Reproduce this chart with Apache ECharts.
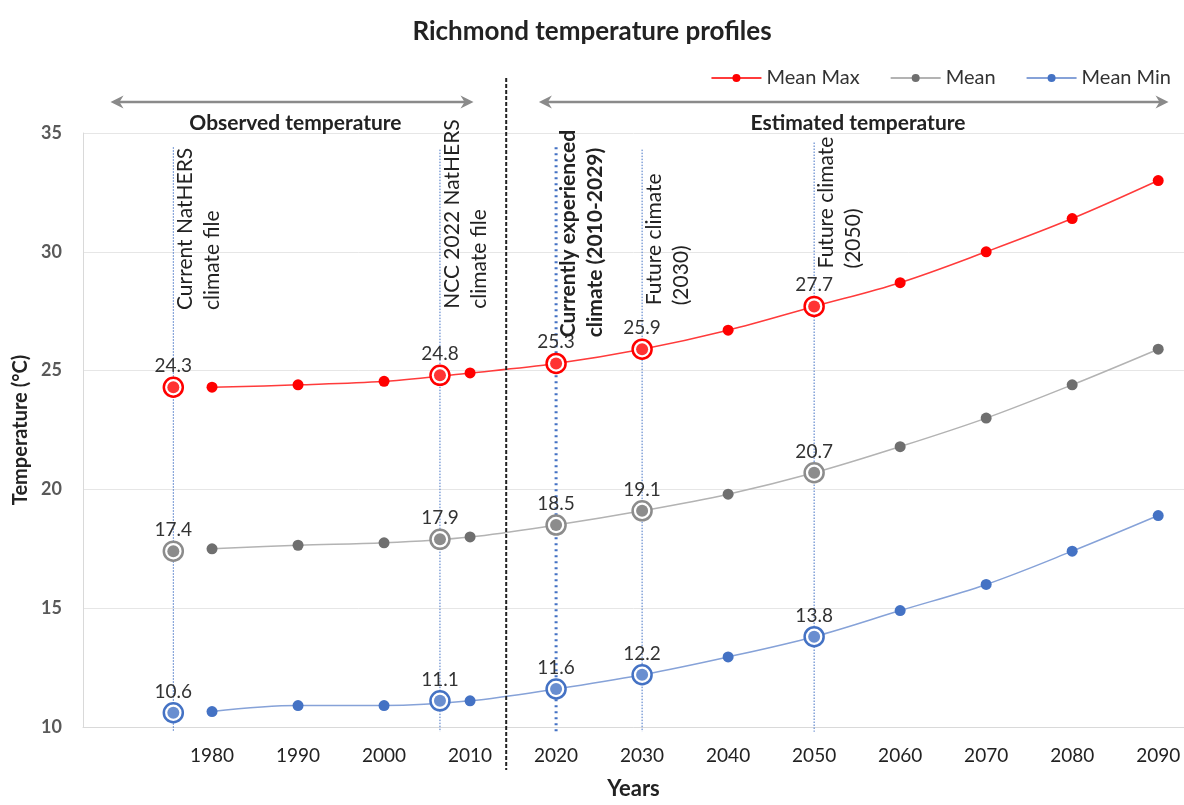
<!DOCTYPE html>
<html>
<head>
<meta charset="utf-8">
<script src="https://cdn.jsdelivr.net/npm/echarts@6/dist/echarts.min.js"></script>
<style>html,body{margin:0;padding:0;background:#fff;overflow:hidden;}#main{width:1184px;height:805px;}</style>
</head>
<body>
<div id="main"></div>
<script>
// ---- data ----
const years = [1980, 1990, 2000, 2010, 2020, 2030, 2040, 2050, 2060, 2070, 2080, 2090];
const meanMax = [24.3, 24.4, 24.55, 24.9, 25.3, 25.9, 26.7, 27.7, 28.7, 30.0, 31.4, 33.0];
const meanAvg = [17.5, 17.65, 17.75, 18.0, 18.5, 19.1, 19.8, 20.7, 21.8, 23.0, 24.4, 25.9];
const meanMin = [10.65, 10.9, 10.9, 11.1, 11.6, 12.2, 12.95, 13.8, 14.9, 16.0, 17.4, 18.9];

const hlYears = [1975.5, 2006.5, 2020, 2030, 2050];
const hlMax = [24.3, 24.8, 25.3, 25.9, 27.7];
const hlMean = [17.4, 17.9, 18.5, 19.1, 20.7];
const hlMin = [10.6, 11.1, 11.6, 12.2, 13.8];

const annotYears = [1975.5, 2006.5, 2020, 2030, 2050];
const annotText = [
  ['Current NatHERS', 'climate file'],
  ['NCC 2022 NatHERS', 'climate file'],
  ['Currently experienced', 'climate (2010-2029)'],
  ['Future climate', '(2030)'],
  ['Future climate', '(2050)']
];
const annotBold = [false, false, true, false, false];
const annotBase = [27.55, 27.6, 26.4, 27.75, 29.3];   // value where rotated text starts
const annotTop = [34.4, 34.3, 34.4, 34.3, 34.6];

const dividerYear = 2014.2;
const periods = [
  {name: 'Observed temperature', from: 1968.2, to: 2010.4, center: 1989.7},
  {name: 'Estimated temperature', from: 2018, to: 2091.2, center: 2055.1}
];

const seriesNames = ['Mean Max', 'Mean', 'Mean Min'];
const lineColors = ['#ff3b3b', '#b3b3b3', '#86a2d8'];
const dotColors = ['#ff0000', '#6f6f6f', '#4472c4'];
const ringColors = ['#ff0000', '#8c8c8c', '#4472c4'];
const lineData = [meanMax, meanAvg, meanMin];
const hlData = [hlMax, hlMean, hlMin];

const FONT = 'Lato, "Open Sans", sans-serif';

const chart = echarts.init(document.getElementById('main'));

const series = [];
for (let i = 0; i < 3; i++) {
  series.push({
    name: seriesNames[i], type: 'line', smooth: 0.35,
    data: years.map((y, k) => [y, lineData[i][k]]),
    symbol: 'circle', symbolSize: 11,
    lineStyle: {color: lineColors[i], width: 1.5},
    itemStyle: {color: dotColors[i]},
    z: 3
  });
}
for (let i = 0; i < 3; i++) {
  series.push({
    name: seriesNames[i] + ' ring', type: 'scatter',
    data: hlYears.map((y, k) => [y, hlData[i][k]]),
    symbol: 'circle', symbolSize: 19,
    itemStyle: {color: '#ffffff', borderColor: ringColors[i], borderWidth: 2.5, opacity: 1},
    label: {show: true, position: 'top', distance: 1, color: '#333', fontSize: 19, fontFamily: FONT,
      formatter: p => p.value[1].toFixed(1)},
    z: 4
  });
  series.push({
    name: seriesNames[i] + ' dot', type: 'scatter',
    data: hlYears.map((y, k) => [y, hlData[i][k]]),
    symbol: 'circle', symbolSize: 12,
    itemStyle: {color: dotColors[i]},
    z: 5
  });
}

const option = {
  animation: false,
  backgroundColor: '#ffffff',
  textStyle: {fontFamily: FONT},
  title: {
    text: 'Richmond temperature profiles', left: 'center', top: 14,
    textStyle: {fontSize: 26, fontWeight: 'bold', color: '#222', fontFamily: FONT}
  },
  legend: {
    data: seriesNames, top: 63, right: 8, itemWidth: 50, itemHeight: 10, itemGap: 30,
    textStyle: {fontSize: 20, color: '#333', fontFamily: FONT}
  },
  grid: {left: 83, right: 0, top: 133, bottom: 72, containLabel: false},
  xAxis: {
    type: 'value', min: 1965, max: 2093, interval: 5,
    name: 'Years', nameLocation: 'middle', nameGap: 51,
    nameTextStyle: {fontSize: 22, fontWeight: 'bold', color: '#222'},
    axisLine: {show: true, lineStyle: {color: '#d9d9d9'}},
    axisTick: {show: false},
    splitLine: {show: false},
    axisLabel: {
      fontSize: 19, color: '#222', margin: 19, showMaxLabel: false, showMinLabel: false,
      formatter: v => (v % 10 === 0 && v >= 1980 && v <= 2090) ? String(v) : ''
    }
  },
  yAxis: {
    type: 'value', min: 10, max: 35, interval: 5,
    name: 'Temperature (°C)', nameLocation: 'middle', nameGap: 51, nameRotate: 90,
    nameTextStyle: {fontSize: 20, fontWeight: 'bold', color: '#222'},
    axisLine: {show: true, lineStyle: {color: '#d9d9d9'}},
    axisTick: {show: false},
    splitLine: {show: true, lineStyle: {color: '#e6e6e6'}},
    axisLabel: {fontSize: 18, color: '#595959', fontWeight: 'bold', margin: 21}
  },
  series: series
};
chart.setOption(option);

function px(x, y) { return chart.convertToPixel({gridIndex: 0}, [x, y]); }

const graphics = [];
// divider
{
  const a = px(dividerYear, 35);
  graphics.push({type: 'line', shape: {x1: a[0], y1: 78, x2: a[0], y2: 770},
    style: {stroke: '#222', lineWidth: 2, lineDash: [4, 2]}, z: 10});
}
// vertical annotation lines + text
annotYears.forEach((yr, i) => {
  const top = px(yr, annotTop[i]);
  const bot = px(yr, 9.8);
  const thick = annotBold[i];
  graphics.push({type: 'line', shape: {x1: top[0], y1: top[1], x2: bot[0], y2: bot[1]},
    style: {stroke: '#4472c4', lineWidth: thick ? 3 : 1, lineDash: thick ? [2, 4] : [1.5, 1.5]}, z: 2});
  const base = px(yr, annotBase[i]);
  annotText[i].forEach((t, j) => {
    graphics.push({type: 'text', x: base[0] + 12 + j * 27, y: base[1], rotation: Math.PI / 2,
      style: {text: t, fontSize: 21, fontFamily: FONT, fill: '#222', fontWeight: thick ? 'bold' : 'normal',
        textAlign: 'left', textVerticalAlign: 'middle'}, z: 12});
  });
});
// period arrows
function arrowHead(x, y, dir) {
  const L = 13, W = 6.5, N = 4;
  return {type: 'polygon', shape: {points: [[x, y], [x - dir * L, y - W], [x - dir * (L - N), y], [x - dir * L, y + W]]},
    style: {fill: '#8a8a8a'}, z: 10};
}
periods.forEach(p => {
  const a = px(p.from, 35), b = px(p.to, 35), c = px(p.center, 35);
  const y = 102;
  graphics.push({type: 'line', shape: {x1: a[0] + 4, y1: y, x2: b[0] - 4, y2: y}, style: {stroke: '#8a8a8a', lineWidth: 2.5}, z: 10});
  graphics.push(arrowHead(a[0], y, -1));
  graphics.push(arrowHead(b[0], y, 1));
  graphics.push({type: 'text', x: c[0], y: 123,
    style: {text: p.name, fontSize: 21, fontWeight: 'bold', fontFamily: FONT, fill: '#222', textAlign: 'center', textVerticalAlign: 'middle'}, z: 10});
});
chart.setOption({graphic: graphics});
</script>
</body>
</html>
